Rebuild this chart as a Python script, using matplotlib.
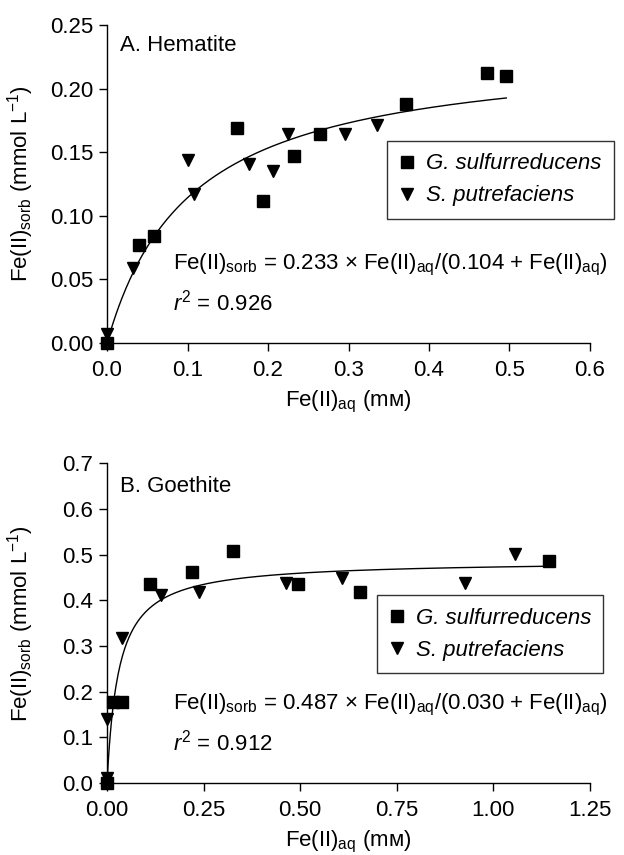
import matplotlib
matplotlib.use('Agg')
import matplotlib.pyplot as plt
import numpy as np

plt.rcParams['font.family'] = ['Liberation Sans', 'DejaVu Sans']
plt.rcParams['mathtext.fontset'] = 'custom'
plt.rcParams['mathtext.rm'] = 'Liberation Sans'
plt.rcParams['mathtext.it'] = 'Liberation Sans:italic'
plt.rcParams['axes.unicode_minus'] = True

#%% datos - hematita
hem_geo_x = [0.0, 0.040, 0.058, 0.162, 0.194, 0.232, 0.265, 0.372, 0.472, 0.496]
hem_geo_y = [0.0, 0.077, 0.084, 0.169, 0.112, 0.147, 0.164, 0.188, 0.212, 0.210]
hem_she_x = [0.0, 0.032, 0.101, 0.108, 0.177, 0.206, 0.225, 0.296, 0.335]
hem_she_y = [0.007, 0.059, 0.144, 0.117, 0.141, 0.135, 0.164, 0.164, 0.171]
hem_fit = (0.233, 0.104)

#%% datos - goethita
goe_geo_x = [0.0, 0.015, 0.038, 0.112, 0.221, 0.326, 0.493, 0.654, 1.145]
goe_geo_y = [0.0, 0.177, 0.177, 0.436, 0.463, 0.507, 0.435, 0.418, 0.487]
goe_she_x = [0.0, 0.0, 0.040, 0.139, 0.239, 0.463, 0.609, 0.927, 1.055]
goe_she_y = [0.012, 0.140, 0.317, 0.411, 0.418, 0.438, 0.448, 0.437, 0.501]
goe_fit = (0.487, 0.030)

ylab = r'Fe(II)$_{\mathrm{sorb}}$ (mmol L$^{-1}$)'
xlab = r'Fe(II)$_{\mathrm{aq}}$ (mᴍ)'
fs = 16

fig = plt.figure(figsize=(6.24, 8.55), dpi=100)
ax1 = fig.add_axes([0.1715, 0.5988, 0.774, 0.372])
ax2 = fig.add_axes([0.1715, 0.0842, 0.774, 0.374])


def panel(ax, gx, gy, sx, sy, fit, xmax_fit, xlim, ylim, xt, yt, xfmt, yfmt, title, r2, legbox, ty):
    a, k = fit
    xf = np.linspace(0, xmax_fit, 400)
    ax.plot(xf, a * xf / (k + xf), color='black', lw=1.0, zorder=2)
    ax.plot(gx, gy, 's', color='black', ms=8.5, clip_on=False, zorder=3,
            label='G. sulfurreducens')
    ax.plot(sx, sy, 'v', color='black', ms=9, clip_on=False, zorder=3,
            label='S. putrefaciens')
    ax.set_xlim(xlim)
    ax.set_ylim(ylim)
    ax.set_xticks(xt)
    ax.set_yticks(yt)
    ax.set_xticklabels([xfmt % v for v in xt])
    ax.set_yticklabels([yfmt % v for v in yt])
    for s in ['top', 'right']:
        ax.spines[s].set_visible(False)
    for s in ['left', 'bottom']:
        ax.spines[s].set_linewidth(1.0)
    ax.tick_params(direction='out', length=6, width=1.0, labelsize=fs)
    ax.tick_params(axis='x', pad=6)
    ax.tick_params(axis='y', pad=4)
    ax.set_xlabel(xlab, fontsize=fs)
    ax.set_ylabel(ylab, fontsize=fs)
    ax.xaxis.set_label_coords(0.5, -0.145)
    ax.yaxis.set_label_coords(-0.148, 0.5)
    ax.text(0.027, ty, title, transform=ax.transAxes, fontsize=fs, va='center')
    eq = (r'Fe(II)$_{\mathrm{sorb}}$ = %.3f × Fe(II)$_{\mathrm{aq}}$/(%.3f + Fe(II)$_{\mathrm{aq}}$)'
          % (a, k))
    ax.text(0.137, 0.245, eq, transform=ax.transAxes, fontsize=fs, va='center')
    ax.text(0.137, 0.127, r'$r^2$ = %.3f' % r2, transform=ax.transAxes,
            fontsize=fs, va='center')
    leg = ax.legend(loc='upper left', bbox_to_anchor=legbox, borderaxespad=0,
                    frameon=True, fancybox=False, edgecolor='black',
                    handlelength=0.7, handletextpad=0.5, borderpad=0.55,
                    labelspacing=0.5, prop={'style': 'italic', 'size': fs})
    leg.get_frame().set_linewidth(1.0)


panel(ax1, hem_geo_x, hem_geo_y, hem_she_x, hem_she_y, hem_fit, 0.496,
      (0, 0.6), (0, 0.25), np.arange(0, 0.61, 0.1), np.arange(0, 0.251, 0.05),
      '%.1f', '%.2f', 'A. Hematite', 0.926, (0.580, 0.635), 0.937)
panel(ax2, goe_geo_x, goe_geo_y, goe_she_x, goe_she_y, goe_fit, 1.145,
      (0, 1.25), (0, 0.7), np.arange(0, 1.26, 0.25), np.arange(0, 0.71, 0.1),
      '%.2f', '%.1f', 'B. Goethite', 0.912, (0.559, 0.587), 0.928)

plt.savefig('out.png', dpi=100)
